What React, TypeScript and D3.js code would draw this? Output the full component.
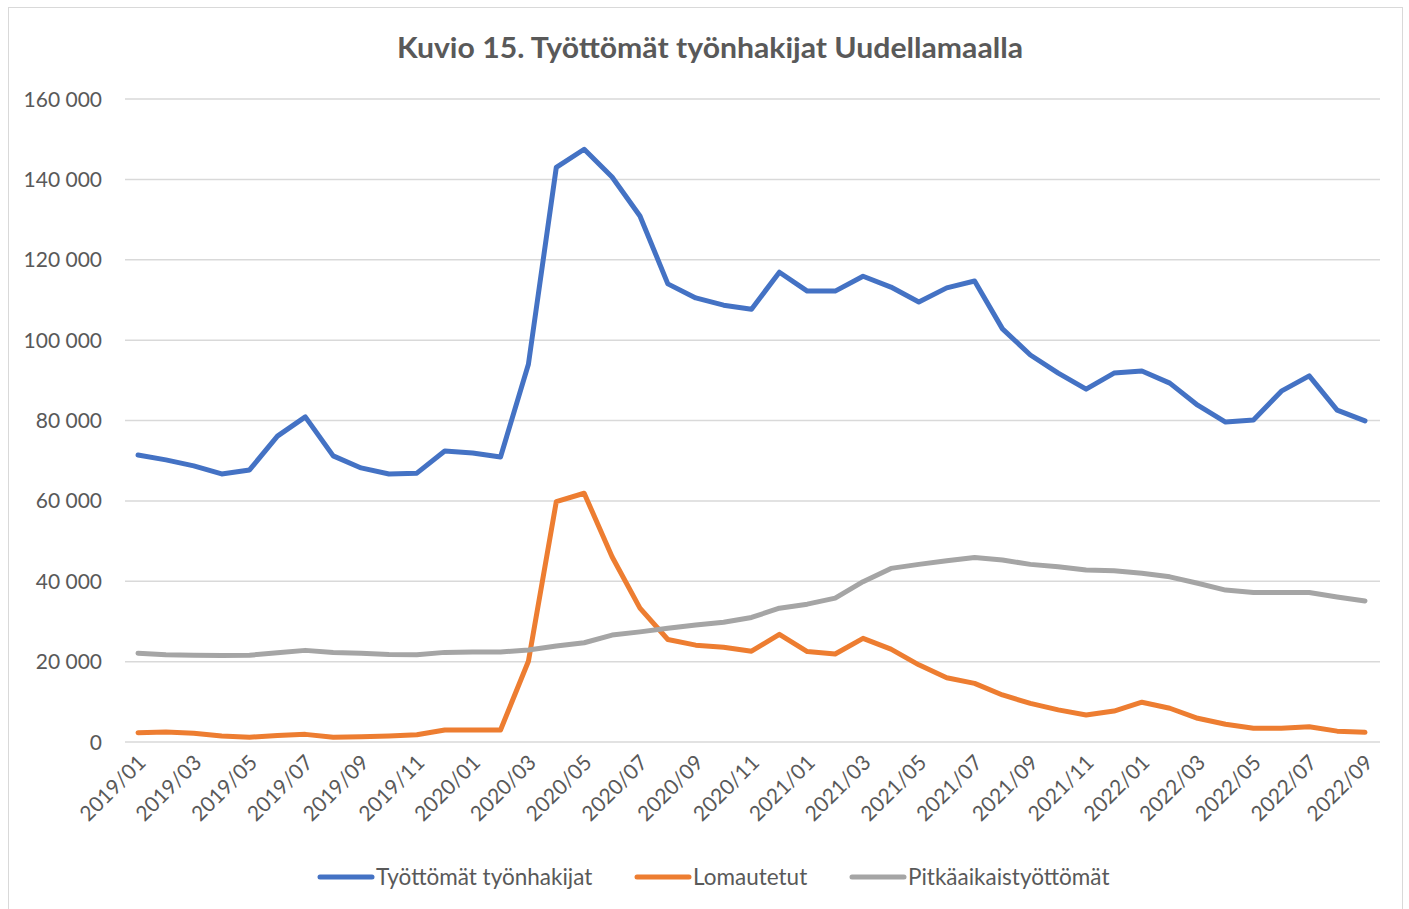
import React from "react";
import * as d3 from "d3";

const months: string[] = [];
for (let y = 2019; y <= 2022; y++) {
  for (let m = 1; m <= 12; m++) {
    if (y === 2022 && m > 9) break;
    months.push(`${y}/${String(m).padStart(2, "0")}`);
  }
}

const tyottomat = [
  71400, 70200, 68700, 66700, 67700, 76100, 80900, 71200, 68200, 66700, 66900, 72400,
  71900, 70900, 94000, 143000, 147500, 140600, 130900, 114000, 110500, 108700, 107700, 116900,
  112200, 112200, 115900, 113200, 109500, 113000, 114700, 102800, 96300, 91800, 87800, 91800,
  92300, 89300, 83800, 79600, 80100, 87300, 91100, 82600, 79900,
];
const lomautetut = [
  2300, 2500, 2200, 1500, 1200, 1600, 1900, 1200, 1300, 1500, 1800, 3000,
  3000, 3000, 20100, 59800, 61900, 46100, 33300, 25500, 24100, 23600, 22600, 26800,
  22500, 21900, 25800, 23100, 19200, 16000, 14600, 11700, 9600, 8000, 6700, 7700,
  9900, 8400, 5900, 4400, 3400, 3400, 3800, 2700, 2400,
];
const pitkaaikais = [
  22100, 21700, 21600, 21500, 21600, 22200, 22800, 22300, 22100, 21800, 21700, 22300,
  22400, 22400, 22900, 23900, 24700, 26600, 27400, 28300, 29100, 29800, 31000, 33300,
  34300, 35800, 39900, 43200, 44200, 45100, 45900, 45300, 44200, 43600, 42800, 42600,
  42000, 41100, 39500, 37800, 37200, 37200, 37200, 36100, 35100,
];
const yTicks = [0, 20000, 40000, 60000, 80000, 100000, 120000, 140000, 160000];

const series = [
  { name: "Työttömät työnhakijat", values: tyottomat, color: "#4472C4" },
  { name: "Lomautetut", values: lomautetut, color: "#ED7D31" },
  { name: "Pitkäaikaistyöttömät", values: pitkaaikais, color: "#A5A5A5" },
];

const W = 1409, H = 909;
const FONT = "Lato, 'Open Sans', sans-serif";

export default function App() {
  const x = d3.scaleLinear().domain([0, months.length - 1]).range([138, 1365]);
  const y = d3.scaleLinear().domain([0, 160000]).range([742, 99]);
  const fmt = (v: number) => d3.format(",")(v).replace(/,/g, " ");
  const line = (vals: number[]) =>
    d3.line<number>().x((_, i) => x(i)).y((d) => y(d))(vals) || "";
  const legendX = [320, 637, 852];

  return (
    <svg
      width={W}
      height={H}
      style={{ position: "absolute", left: 0, top: 0, display: "block", background: "#fff" }}
      fontFamily={FONT}
    >
      <rect x={8.5} y={7.5} width={1394} height={920} fill="#fff" stroke="#d9d9d9" strokeWidth={1} />
      <text x={710} y={58} textAnchor="middle" fontSize={29} fontWeight="bold" fill="#595959"
        textLength={626} lengthAdjust="spacingAndGlyphs">
        Kuvio 15. Työttömät työnhakijat Uudellamaalla
      </text>
      {yTicks.map((t) => (
        <g key={t}>
          <line x1={125} x2={1380} y1={y(t)} y2={y(t)} stroke="#d9d9d9" strokeWidth={1.5} />
          <text x={102} y={y(t) + 7.5} textAnchor="end" fontSize={21} fill="#595959">
            {fmt(t)}
          </text>
        </g>
      ))}
      {months.map((m, i) =>
        i % 2 === 0 ? (
          <text
            key={m}
            transform={`translate(${x(i) + 9},${764}) rotate(-45)`}
            textAnchor="end"
            fontSize={21}
            fill="#595959"
          >
            {m}
          </text>
        ) : null
      )}
      {series.map((s) => (
        <path
          key={s.name}
          d={line(s.values)}
          fill="none"
          stroke={s.color}
          strokeWidth={5}
          strokeLinejoin="round"
          strokeLinecap="round"
        />
      ))}
      {series.map((s, i) => (
        <g key={s.name}>
          <line x1={legendX[i]} x2={legendX[i] + 52} y1={877} y2={877} stroke={s.color} strokeWidth={5} strokeLinecap="round" />
          <text x={legendX[i] + 56} y={885} fontSize={22.5} fill="#595959">
            {s.name}
          </text>
        </g>
      ))}
    </svg>
  );
}
